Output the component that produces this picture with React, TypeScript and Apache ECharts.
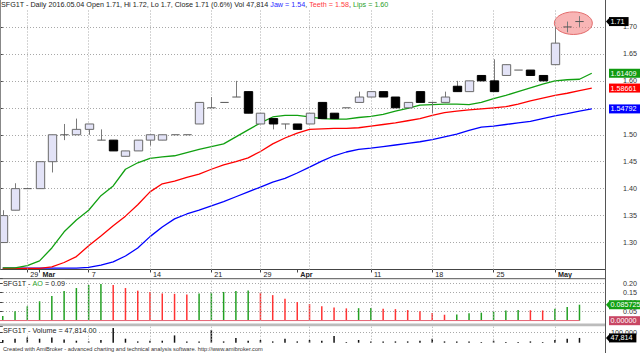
import React, { useEffect, useRef } from 'react';
import * as echarts from 'echarts';

// ---------- data ----------
const DATES = [
  '2016-02-25','2016-02-26','2016-02-29','2016-03-01','2016-03-02','2016-03-03','2016-03-04',
  '2016-03-07','2016-03-08','2016-03-09','2016-03-10','2016-03-11','2016-03-14','2016-03-15',
  '2016-03-16','2016-03-17','2016-03-18','2016-03-21','2016-03-22','2016-03-23','2016-03-24',
  '2016-03-29','2016-03-30','2016-03-31','2016-04-01','2016-04-04','2016-04-05','2016-04-06',
  '2016-04-07','2016-04-08','2016-04-11','2016-04-12','2016-04-13','2016-04-14','2016-04-15',
  '2016-04-18','2016-04-19','2016-04-20','2016-04-21','2016-04-22','2016-04-25','2016-04-26',
  '2016-04-27','2016-04-28','2016-04-29','2016-05-02','2016-05-03','2016-05-04',
];
const OPEN = [1.30,1.36,1.40,1.40,1.45,1.50,1.50,1.51,1.49,1.49,1.46,1.47,1.49,1.49,1.50,1.50,
  1.52,1.55,1.56,1.57,1.58,1.52,1.53,1.52,1.52,1.52,1.56,1.54,1.55,1.56,1.57,1.58,
  1.57,1.55,1.58,1.56,1.56,1.59,1.58,1.61,1.60,1.61,1.62,1.62,1.61,1.63,1.70,1.71];
const HIGH = [1.36,1.41,1.40,1.45,1.50,1.52,1.53,1.52,1.51,1.49,1.47,1.49,1.50,1.50,1.50,1.50,
  1.56,1.57,1.56,1.60,1.58,1.54,1.53,1.52,1.52,1.54,1.56,1.54,1.55,1.58,1.58,1.58,
  1.57,1.56,1.58,1.56,1.58,1.60,1.60,1.61,1.64,1.63,1.62,1.62,1.61,1.70,1.71,1.72];
const LOW = [1.30,1.36,1.40,1.40,1.43,1.49,1.50,1.50,1.49,1.47,1.46,1.47,1.48,1.49,1.50,1.50,
  1.52,1.55,1.56,1.57,1.54,1.52,1.51,1.51,1.51,1.52,1.53,1.53,1.55,1.56,1.57,1.57,
  1.55,1.55,1.56,1.54,1.56,1.58,1.58,1.60,1.58,1.61,1.62,1.61,1.60,1.63,1.69,1.70];
const CLOSE = [1.35,1.40,1.40,1.45,1.50,1.50,1.51,1.52,1.49,1.47,1.47,1.49,1.50,1.50,1.50,1.50,
  1.56,1.55,1.56,1.57,1.54,1.54,1.52,1.52,1.51,1.54,1.53,1.53,1.55,1.57,1.58,1.57,
  1.55,1.56,1.56,1.56,1.57,1.58,1.60,1.60,1.58,1.63,1.62,1.61,1.60,1.67,1.70,1.71];
const VOLUME = [27000,40000,53000,40000,53000,33000,20000,13000,27000,147000,40000,13000,20000,20000,
  73000,13000,13000,127000,13000,47000,20000,27000,13000,40000,13000,27000,20000,67000,7000,27000,
  13000,13000,13000,13000,20000,40000,13000,13000,13000,7000,20000,7000,7000,13000,7000,27000,40000,47814];
// Alligator (shifted forward, one value more than the bars)
const JAW = [1.2526,1.2526,1.2526,1.2526,1.2526,1.2526,1.2526,1.254,1.258,1.264,1.275,1.290,1.311,1.329,
  1.344,1.353,1.360,1.368,1.376,1.385,1.394,1.403,1.412,1.419,1.429,1.440,1.451,1.461,1.468,1.473,
  1.475,1.478,1.481,1.484,1.487,1.491,1.496,1.501,1.508,1.514,1.516,1.519,1.522,1.525,1.530,1.535,
  1.539,1.544,1.54792];
const TEETH = [1.252,1.252,1.252,1.252,1.255,1.263,1.274,1.294,1.312,1.331,1.349,1.370,1.394,1.409,
  1.414,1.421,1.427,1.436,1.444,1.450,1.457,1.469,1.483,1.494,1.503,1.510,1.511,1.512,1.512,1.513,
  1.516,1.519,1.522,1.526,1.530,1.536,1.541,1.544,1.546,1.548,1.550,1.552,1.557,1.563,1.568,1.573,
  1.577,1.582,1.58661];
const LIPS = [1.253,1.253,1.257,1.266,1.290,1.320,1.342,1.360,1.387,1.405,1.436,1.448,1.456,1.459,
  1.461,1.467,1.473,1.478,1.483,1.496,1.509,1.522,1.533,1.536,1.536,1.533,1.530,1.529,1.529,1.532,
  1.534,1.538,1.544,1.549,1.555,1.556,1.557,1.557,1.556,1.560,1.567,1.573,1.580,1.587,1.594,1.600,
  1.602,1.603,1.61409];
const AO = [0.025,0.050,0.077,0.104,0.132,0.159,0.175,0.191,0.196,0.191,0.175,0.161,0.154,0.146,0.144,
  0.141,0.146,0.150,0.154,0.159,0.162,0.150,0.137,0.118,0.100,0.089,0.077,0.071,0.066,0.067,0.068,
  0.064,0.062,0.057,0.050,0.041,0.032,0.033,0.040,0.043,0.048,0.054,0.057,0.056,0.055,0.064,0.073,0.085725];

const X_TICK_INDEX = [2, 3, 7, 12, 17, 21, 24, 30, 35, 40, 45];
const X_TICK_LABELS = ['29', 'Mar', '7', '14', '21', '29', 'Apr', '11', '18', '25', 'May'];
const WEEK_INDEX = [2, 7, 12, 17, 21, 25, 30, 35, 40, 45];
const HIGHLIGHT = [[46.5, 1.707]];

// ---------- layout ----------
const FONT = "'Liberation Sans', Arial, sans-serif";
const FS = 7.2;
const TITLE_FS = 7.2;
const X_MIN = -0.225;
const X_MAX = 49.08;
const PLOT_W = 605;
const GRID_MAIN = { left: 0, top: 0, width: PLOT_W, height: 269.5 };
const GRID_AO = { left: 0, top: 278.7, width: PLOT_W, height: 42 };
const GRID_VOL = { left: 0, top: 326.5, width: PLOT_W, height: 16.2 };
const DOT = [1, 2];
const GRID_COLOR = '#a8a8a8';

const fmtNum = (v: number) => String(Math.round(v * 100) / 100);

export default function App() {
  const ref = useRef<HTMLDivElement>(null);
  useEffect(() => {
    const chart = echarts.init(ref.current!, null, { renderer: 'svg' });
    const last = DATES.length - 1;

    const hiddenX = (gi: number) => ({
      type: 'value', gridIndex: gi, min: X_MIN, max: X_MAX, show: false,
      splitLine: { show: false },
    });

    const weekLines = {
      silent: true, symbol: ['none', 'none'], animation: false,
      label: { show: false },
      lineStyle: { type: DOT, color: GRID_COLOR, width: 1 },
      emphasis: { disabled: true },
      data: WEEK_INDEX.map((i) => ({ xAxis: i })),
    };

    const badgeSeries = (gi: number, items: any[]) => ({
      type: 'custom', xAxisIndex: gi, yAxisIndex: gi, clip: false, silent: true, z: 30,
      data: items.map((b) => [0, b.value]),
      renderItem: (params: any, api: any) => {
        const b = items[params.dataIndex];
        const cs = params.coordSys;
        const y = api.coord([0, api.value(1)])[1];
        const x0 = cs.x + cs.width;
        const w = b.text.length * 3.9 + 4;
        const ch: any[] = [];
        if (b.arrow) {
          ch.push({ type: 'polygon', shape: { points: [[x0 + 1, y], [x0 + 5, y - 4.5], [x0 + 5, y + 4.5]] }, style: { fill: b.color } });
        }
        ch.push({ type: 'rect', shape: { x: x0 + 4, y: y - 4.5, width: w, height: 9 }, style: { fill: b.color } });
        ch.push({ type: 'text', x: x0 + 5.5, y, style: { text: b.text, fill: '#fff', fontSize: FS, fontFamily: FONT, verticalAlign: 'middle', align: 'left' } });
        return { type: 'group', children: ch };
      },
    });

    const chg = ((CLOSE[last] - CLOSE[last - 1]) / CLOSE[last - 1]) * 100;
    const title =
      `{d|SFG1T - Daily ${DATES[last].replace(/-/g, '.')} Open ${fmtNum(OPEN[last])}, Hi ${fmtNum(HIGH[last])}, Lo ${fmtNum(LOW[last])}, Close ${fmtNum(CLOSE[last])} (${chg.toFixed(1)}%) Vol ${VOLUME[last].toLocaleString('en-US')} }` +
      `{b|Jaw = ${JAW[last].toFixed(2)}}{d|, }{r|Teeth = ${TEETH[last].toFixed(2)}}{d|, }{g|Lips = ${LIPS[last].toFixed(2)}}`;

    const txt = (color: string, extra: any = {}) => ({ fill: color, fontSize: FS, fontFamily: FONT, ...extra });
    const ttl = (color: string) => txt(color, { fontSize: TITLE_FS });

    const option: any = {
      animation: false,
      backgroundColor: '#fff',
      grid: [
        { ...GRID_MAIN, containLabel: false },
        { ...GRID_AO, containLabel: false },
        { ...GRID_VOL, containLabel: false },
      ],
      xAxis: [
        {
          type: 'value', gridIndex: 0, min: X_MIN, max: X_MAX, position: 'bottom',
          axisLine: { show: true, onZero: false, lineStyle: { color: '#444', width: 1 } },
          axisTick: { show: true, customValues: X_TICK_INDEX, length: 3, lineStyle: { color: '#444' } },
          axisLabel: {
            customValues: X_TICK_INDEX, align: 'left', margin: 1.5, fontSize: FS, fontFamily: FONT, color: '#222',
            padding: [0, 0, 0, 3],
            formatter: (v: number) => {
              const t = X_TICK_LABELS[X_TICK_INDEX.indexOf(Math.round(v))] || '';
              return /^[A-Z]/.test(t) ? `{b|${t}}` : t;
            },
            rich: { b: { fontWeight: 'bold', fontSize: FS, fontFamily: FONT, color: '#222' } },
          },
          splitLine: { show: false },
        },
        hiddenX(1),
        hiddenX(2),
      ],
      yAxis: [
        {
          type: 'value', gridIndex: 0, position: 'right', min: 1.25, max: 1.75, interval: 0.05,
          axisLine: { show: false },
          axisTick: { show: true, inside: true, length: 3, lineStyle: { color: '#444' } },
          axisLabel: {
            align: 'right', margin: 32, fontSize: FS, fontFamily: FONT, color: '#333',
            formatter: (v: number) => (v < 1.27 || v > 1.73 ? '' : v.toFixed(2)),
          },
          splitLine: { show: true, showMinLine: false, showMaxLine: false, lineStyle: { type: DOT, color: GRID_COLOR } },
        },
        {
          type: 'value', gridIndex: 1, position: 'right', min: 0, max: 0.225, interval: 0.05,
          axisLine: { show: false },
          axisTick: { show: true, inside: true, length: 3, lineStyle: { color: '#444' } },
          axisLabel: {
            align: 'right', margin: 32, fontSize: FS, fontFamily: FONT, color: '#333',
            formatter: (v: number) => (v > 0.21 ? '' : v.toFixed(2)),
          },
          splitLine: { show: true, showMinLine: false, showMaxLine: false, lineStyle: { type: DOT, color: GRID_COLOR } },
        },
        {
          type: 'value', gridIndex: 2, position: 'right', min: 0, max: 162000, interval: 100000,
          axisLine: { show: false },
          axisTick: { show: true, inside: true, length: 3, lineStyle: { color: '#444' } },
          axisLabel: {
            align: 'right', margin: 32, fontSize: FS, fontFamily: FONT, color: '#333',
            formatter: (v: number) => (v === 100000 ? v.toLocaleString('en-US') : ''),
          },
          splitLine: { show: true, showMinLine: false, showMaxLine: false, lineStyle: { type: DOT, color: GRID_COLOR } },
        },
      ],
      series: [
        // highlight ellipse
        {
          type: 'custom', xAxisIndex: 0, yAxisIndex: 0, silent: true, z: 4, clip: false,
          data: HIGHLIGHT,
          renderItem: (params: any, api: any) => {
            const p = api.coord([api.value(0), api.value(1)]);
            return { type: 'ellipse', shape: { cx: p[0], cy: p[1], rx: 19, ry: 11.3 }, style: { fill: 'rgba(242,120,120,0.55)', stroke: '#e36b6b', lineWidth: 1 } };
          },
        },
        {
          name: 'Jaw', type: 'line', xAxisIndex: 0, yAxisIndex: 0, z: 3, showSymbol: false, silent: true,
          data: JAW.map((v, i) => [i, v]), lineStyle: { color: '#0000ff', width: 1.3 },
          markLine: weekLines,
        },
        {
          name: 'Teeth', type: 'line', xAxisIndex: 0, yAxisIndex: 0, z: 3, showSymbol: false, silent: true,
          data: TEETH.map((v, i) => [i, v]), lineStyle: { color: '#ff0000', width: 1.3 },
        },
        {
          name: 'Lips', type: 'line', xAxisIndex: 0, yAxisIndex: 0, z: 3, showSymbol: false, silent: true,
          data: LIPS.map((v, i) => [i, v]), lineStyle: { color: '#11a011', width: 1.3 },
        },
        // candles
        {
          type: 'custom', xAxisIndex: 0, yAxisIndex: 0, z: 5, silent: true,
          data: DATES.map((_, i) => [i, OPEN[i], CLOSE[i], LOW[i], HIGH[i]]),
          encode: { x: 0, y: [1, 2, 3, 4] },
          renderItem: (params: any, api: any) => {
            const i = api.value(0), o = api.value(1), c = api.value(2), l = api.value(3), h = api.value(4);
            const x = Math.round(api.coord([i, o])[0]) + 0.5;
            const yo = api.coord([i, o])[1], yc = api.coord([i, c])[1];
            const yl = api.coord([i, l])[1], yh = api.coord([i, h])[1];
            const w = api.size([1, 0])[0] * 0.68;
            const up = c >= o;
            const ch: any[] = [];
            if (yl - yh > 0.5) ch.push({ type: 'line', shape: { x1: x, y1: yh, x2: x, y2: yl }, style: { stroke: '#7a7a7a', lineWidth: 1 } });
            if (Math.abs(yc - yo) < 0.5) {
              ch.push({ type: 'line', shape: { x1: x - w / 2, y1: yo, x2: x + w / 2, y2: yo }, style: { stroke: '#555', lineWidth: 1 } });
            } else {
              ch.push({ type: 'rect', shape: { x: x - w / 2, y: Math.min(yo, yc), width: w, height: Math.abs(yc - yo) },
                style: { fill: up ? '#e3e3f7' : '#000', stroke: up ? '#6a6a6a' : '#000', lineWidth: 1 } });
            }
            return { type: 'group', children: ch };
          },
        },
        // AO
        {
          type: 'bar', xAxisIndex: 1, yAxisIndex: 1, barWidth: 1.5, silent: true,
          data: AO.map((v, i) => ({ value: [i, v], itemStyle: { color: i === 0 || v >= AO[i - 1] ? '#22a022' : '#ff3333' } })),
          markLine: weekLines,
        },
        {
          type: 'line', xAxisIndex: 1, yAxisIndex: 1, showSymbol: false, silent: true, z: 3,
          data: [[X_MIN, 0], [AO.length - 1, 0]], lineStyle: { color: '#e66a7a', width: 1.3 },
        },
        // Volume
        {
          type: 'bar', xAxisIndex: 2, yAxisIndex: 2, barWidth: 1.5, silent: true,
          data: VOLUME.map((v, i) => [i, v]), itemStyle: { color: '#111' },
          markLine: weekLines,
        },
        badgeSeries(0, [
          { value: CLOSE[last], text: CLOSE[last].toFixed(2), color: '#000', arrow: true },
          { value: LIPS[LIPS.length - 1], text: LIPS[LIPS.length - 1].toFixed(5), color: '#109a10' },
          { value: TEETH[TEETH.length - 1], text: TEETH[TEETH.length - 1].toFixed(5), color: '#ff0000' },
          { value: JAW[JAW.length - 1], text: JAW[JAW.length - 1].toFixed(5), color: '#0000ff' },
        ]),
        badgeSeries(1, [
          { value: AO[last], text: AO[last].toFixed(6), color: '#14a014', arrow: true },
          { value: 0, text: (0).toFixed(5), color: '#c84664' },
        ]),
        badgeSeries(2, [
          { value: VOLUME[last], text: VOLUME[last].toLocaleString('en-US'), color: '#000', arrow: true },
        ]),
      ],
      graphic: [
        { type: 'rect', z: 50, shape: { x: 0, y: 0, width: PLOT_W - 0.5, height: 9.5 }, style: { fill: '#fff' } },
        { type: 'line', z: 60, shape: { x1: 0.5, y1: 0, x2: 0.5, y2: 269.5 }, style: { stroke: '#888', lineWidth: 1 } },
        { type: 'line', z: 60, shape: { x1: 0, y1: 278.7, x2: PLOT_W, y2: 278.7 }, style: { stroke: '#555', lineWidth: 1 } },
        { type: 'rect', z: 60, shape: { x: 0, y: 323.6, width: PLOT_W, height: 2.6 }, style: { fill: '#bcbcbc' } },
        { type: 'line', z: 60, shape: { x1: PLOT_W + 0.5, y1: 0, x2: PLOT_W + 0.5, y2: 353 }, style: { stroke: '#555', lineWidth: 1 } },
        {
          type: 'text', z: 70, x: 1, y: 1,
          style: {
            text: title, ...ttl('#222'),
            rich: { d: ttl('#222'), b: ttl('#2a2aff'), r: ttl('#ff3b3b'), g: ttl('#2aa02a') },
          },
        },
        {
          type: 'text', z: 70, x: 3, y: 279.8,
          style: {
            text: `{d|SFG1T - }{g|AO}{d| = ${AO[last].toFixed(2)}}`, ...txt('#222'), backgroundColor: '#fff',
            rich: { d: txt('#222'), g: txt('#2aa02a') },
          },
        },
        {
          type: 'text', z: 70, x: 3, y: 326.6,
          style: { text: `SFG1T - Volume = ${VOLUME[last].toLocaleString('en-US', { minimumFractionDigits: 2 })}`, ...txt('#222'), backgroundColor: '#fff' },
        },
        {
          type: 'text', z: 70, x: 3, y: 345.6,
          style: { text: 'Created with AmiBroker - advanced charting and technical analysis software. http://www.amibroker.com', ...txt('#333', { fontSize: 5.7 }) },
        },
      ],
    };
    chart.setOption(option);
    return () => chart.dispose();
  }, []);
  return <div ref={ref} style={{ position: 'fixed', left: 0, top: 0, width: 640, height: 353 }} />;
}
